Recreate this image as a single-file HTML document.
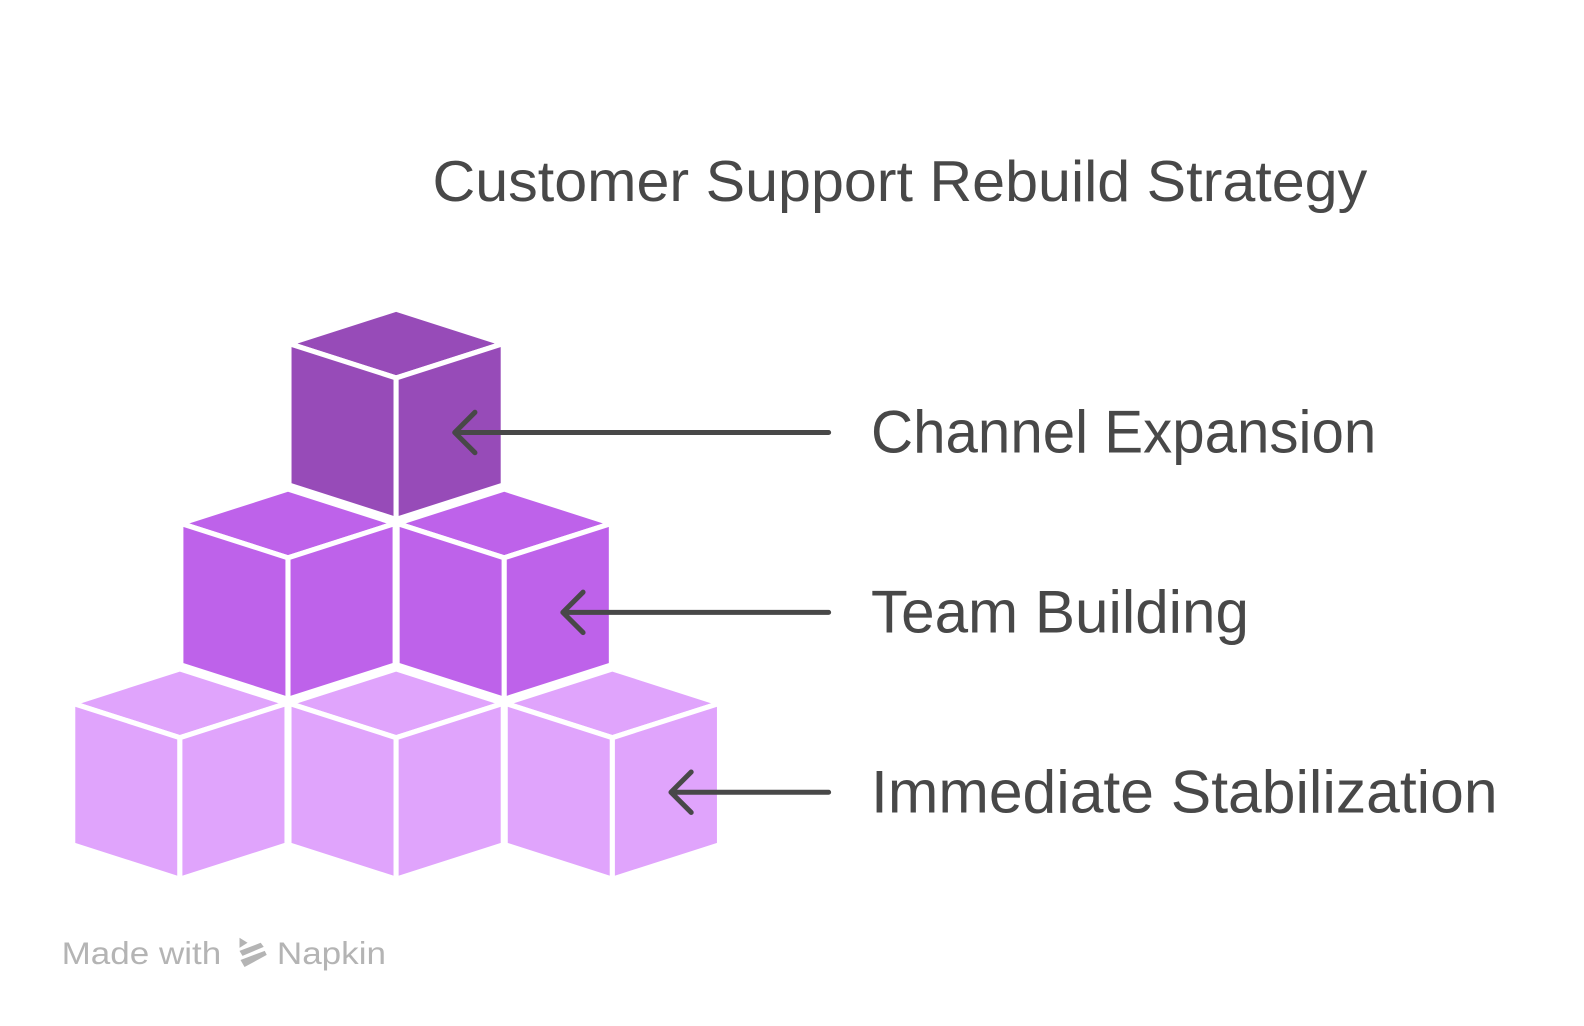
<!DOCTYPE html>
<html><head><meta charset="utf-8"><style>
html,body{margin:0;padding:0;background:#fff;}
svg{display:block;}
text{font-family:"Liberation Sans",sans-serif;fill:#484848;}
</style></head><body>
<svg width="1584" height="1026" viewBox="0 0 1584 1026" xmlns="http://www.w3.org/2000/svg">
<defs>
<g id="cube">
  <polygon points="0,0 106,34 0,68 -106,34"/>
  <polygon points="-106,34 0,68 0,208 -106,174"/>
  <polygon points="106,34 0,68 0,208 106,174"/>
</g>
</defs>
<g transform="scale(1.0105)">
<g stroke="#fff" stroke-width="5" stroke-linejoin="miter">
  <g fill="#E0A4FC">
    <use href="#cube" x="178" y="662"/>
    <use href="#cube" x="392" y="662"/>
    <use href="#cube" x="606" y="662"/>
  </g>
  <g fill="#BE62EA">
    <use href="#cube" x="285" y="484"/>
    <use href="#cube" x="499" y="484"/>
  </g>
  <g fill="#974BB8">
    <use href="#cube" x="392" y="306"/>
  </g>
</g>
<g stroke="#484848" stroke-width="5" stroke-linecap="round" stroke-linejoin="round" fill="none">
  <path d="M820 428 H450 M470 408 L450 428 L470 448"/>
  <path d="M820 606 H557 M577 586 L557 606 L577 626"/>
  <path d="M820 784 H664 M684 764 L664 784 L684 804"/>
</g>
<text x="428" y="199" font-size="57" textLength="925" lengthAdjust="spacingAndGlyphs">Customer Support Rebuild Strategy</text>
<text x="862" y="448" font-size="60" textLength="500" lengthAdjust="spacingAndGlyphs">Channel Expansion</text>
<text x="862" y="626" font-size="60" textLength="374" lengthAdjust="spacingAndGlyphs">Team Building</text>
<text x="862" y="804" font-size="60" textLength="620" lengthAdjust="spacingAndGlyphs">Immediate Stabilization</text>
<text x="61" y="954" font-size="31" style="fill:#b4b4b4" textLength="158" lengthAdjust="spacingAndGlyphs">Made with</text>
<g fill="#b4b4b4">
  <polygon points="237,928 245,933 237,938"/>
  <polygon points="237,941 258,933 261,937 240,946"/>
  <polygon points="238,950 262,941 264,945 242,957"/>
</g>
<text x="274" y="954" font-size="31" style="fill:#b4b4b4" textLength="108" lengthAdjust="spacingAndGlyphs">Napkin</text>
</g>
</svg>
</body></html>
